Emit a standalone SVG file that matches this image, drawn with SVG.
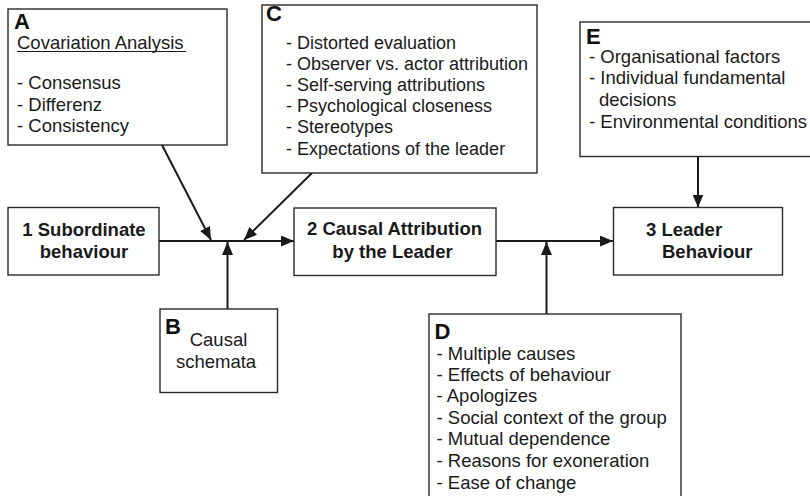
<svg xmlns="http://www.w3.org/2000/svg" width="810" height="496" viewBox="0 0 810 496">
  <style>
    .box { fill: #ffffff; stroke: #2a2a2a; stroke-width: 1.4; }
    .tag { font-family: "Liberation Sans", Arial, sans-serif; font-weight: bold; font-size: 22px; fill: #111; }
    .txt { font-family: "Liberation Sans", Arial, sans-serif; font-size: 18.5px; fill: #1a1a1a; }
    .txt18 { font-family: "Liberation Sans", Arial, sans-serif; font-size: 18px; fill: #1a1a1a; }
    .main { font-family: "Liberation Sans", Arial, sans-serif; font-weight: bold; font-size: 18.5px; fill: #1a1a1a; }
    .wire { stroke: #1a1a1a; stroke-width: 2; fill: none; }
  </style>
  <defs>
    <marker id="arrow" markerUnits="userSpaceOnUse" markerWidth="13" markerHeight="11" refX="13" refY="5.5" orient="auto">
      <path d="M0,0 L13,5.5 L0,11 z" fill="#1a1a1a"/>
    </marker>
  </defs>

  <rect width="810" height="496" fill="#ffffff"/>

  <!-- connectors -->
  <g id="connectors">
    <line class="wire" x1="159" y1="241" x2="294" y2="241" marker-end="url(#arrow)"/>
    <line class="wire" x1="162" y1="145" x2="211" y2="240" marker-end="url(#arrow)"/>
    <line class="wire" x1="312" y1="173" x2="244" y2="240" marker-end="url(#arrow)"/>
    <line class="wire" x1="227.5" y1="309" x2="227.5" y2="242" marker-end="url(#arrow)"/>
    <line class="wire" x1="496" y1="241" x2="613" y2="241" marker-end="url(#arrow)"/>
    <line class="wire" x1="546.5" y1="314" x2="546.5" y2="242" marker-end="url(#arrow)"/>
    <line class="wire" x1="698" y1="157" x2="698" y2="207.5" marker-end="url(#arrow)"/>
  </g>

  <!-- A: covariation analysis -->
  <g id="nodeA">
    <rect class="box" x="8" y="9" width="219" height="136"/>
    <text class="tag" x="14" y="29">A</text>
    <text class="txt" x="17" y="49">Covariation Analysis</text>
    <line x1="17" y1="51.5" x2="186" y2="51.5" stroke="#1a1a1a" stroke-width="1.2"/>
    <text class="txt" x="17" y="89">- Consensus</text>
    <text class="txt" x="17" y="110.5">- Differenz</text>
    <text class="txt" x="17" y="132">- Consistency</text>
  </g>

  <!-- C: attribution biases -->
  <g id="nodeC">
    <rect class="box" x="262" y="5" width="275" height="168"/>
    <text class="tag" x="266" y="21">C</text>
    <text class="txt18" x="286" y="49">- Distorted evaluation</text>
    <text class="txt18" x="286" y="70">- Observer vs. actor attribution</text>
    <text class="txt18" x="286" y="91">- Self-serving attributions</text>
    <text class="txt18" x="286" y="112">- Psychological closeness</text>
    <text class="txt18" x="286" y="133">- Stereotypes</text>
    <text class="txt18" x="286" y="155">- Expectations of the leader</text>
  </g>

  <!-- E: context factors -->
  <g id="nodeE">
    <rect class="box" x="580" y="22" width="240" height="134.5"/>
    <text class="tag" x="586" y="43.5">E</text>
    <text class="txt" x="589" y="63">- Organisational factors</text>
    <text class="txt" x="589" y="84">- Individual fundamental</text>
    <text class="txt" x="599" y="105.5">decisions</text>
    <text class="txt" x="589" y="127.5">- Environmental conditions</text>
  </g>

  <!-- 1: subordinate behaviour -->
  <g id="node1">
    <rect class="box" x="8" y="207.5" width="151" height="67.5"/>
    <text class="main" x="84" y="235.5" text-anchor="middle">1 Subordinate</text>
    <text class="main" x="84" y="258" text-anchor="middle">behaviour</text>
  </g>

  <!-- 2: causal attribution -->
  <g id="node2">
    <rect class="box" x="294" y="208" width="202" height="67.5"/>
    <text class="main" x="394.5" y="235" text-anchor="middle">2 Causal Attribution</text>
    <text class="main" x="392.5" y="257.5" text-anchor="middle">by the Leader</text>
  </g>

  <!-- 3: leader behaviour -->
  <g id="node3">
    <rect class="box" x="613.5" y="207.5" width="169" height="67.5"/>
    <text class="main" x="646" y="235.5">3 Leader</text>
    <text class="main" x="662" y="258">Behaviour</text>
  </g>

  <!-- B: causal schemata -->
  <g id="nodeB">
    <rect class="box" x="160" y="309" width="117.5" height="83.5"/>
    <text class="tag" x="165" y="333.5">B</text>
    <text class="txt" x="218.5" y="346" text-anchor="middle">Causal</text>
    <text class="txt" x="216" y="367.5" text-anchor="middle">schemata</text>
  </g>

  <!-- D: moderating factors -->
  <g id="nodeD">
    <rect class="box" x="429" y="314" width="252" height="200"/>
    <text class="tag" x="434.5" y="338.5">D</text>
    <text class="txt" x="436.5" y="360">- Multiple causes</text>
    <text class="txt" x="436.5" y="381">- Effects of behaviour</text>
    <text class="txt" x="436.5" y="402">- Apologizes</text>
    <text class="txt" x="436.5" y="424">- Social context of the group</text>
    <text class="txt" x="436.5" y="445">- Mutual dependence</text>
    <text class="txt" x="436.5" y="466.5">- Reasons for exoneration</text>
    <text class="txt" x="436.5" y="488.5">- Ease of change</text>
  </g>
</svg>
